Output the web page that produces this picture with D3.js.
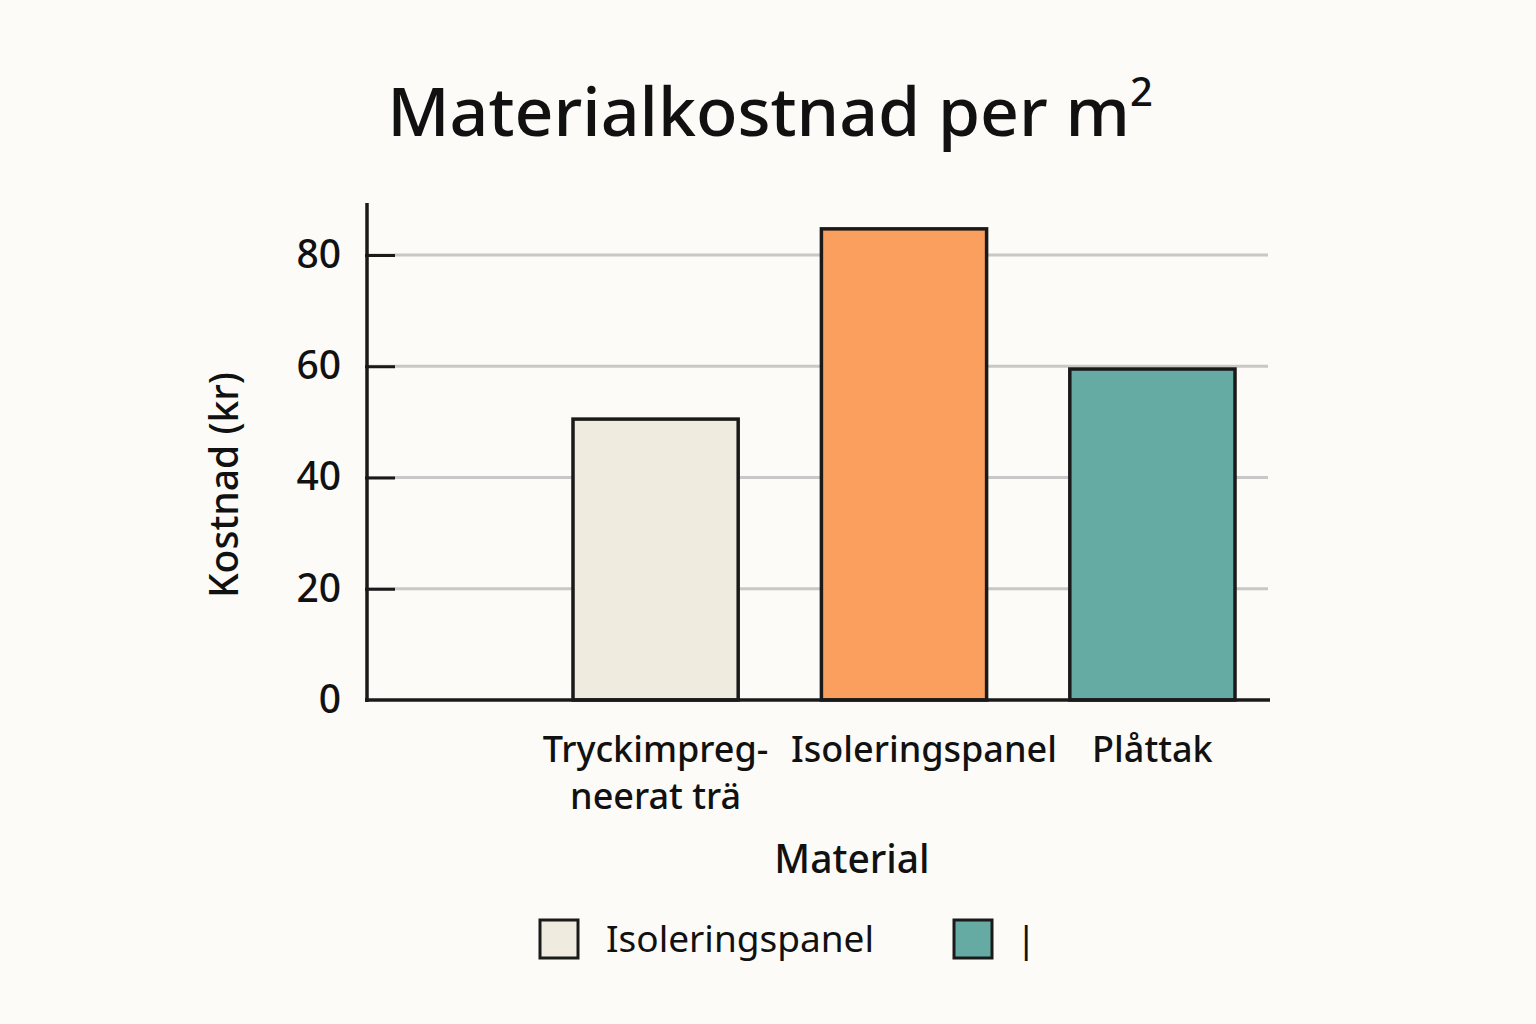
<!DOCTYPE html>
<html lang="en">
<head>
<meta charset="utf-8">
<title>Materialkostnad</title>
<script src="https://cdn.jsdelivr.net/npm/d3@7"></script>
<style>
  body { margin: 0; background: #fcfbf7; }
  text { font-family: "Noto Sans", "DejaVu Sans", sans-serif; fill: #111; font-weight: 500; }
  .tick text { font-size: 39px; }
</style>
</head>
<body>
<div id="chart"></div>
<script>
// data
var categories = ["Tryckimpregneerat trä", "Isoleringspanel", "Plåttak"];
var labelLines = [["Tryckimpreg-", "neerat trä"], ["Isoleringspanel"], ["Plåttak"]];
var costs = [50.5, 84.7, 59.5];
var colors = ["#efebdf", "#fb9f5e", "#65aba4"];
var yTicks = [0, 20, 40, 60, 80];
var legendItems = [{label: "Isoleringspanel", color: "#efebdf"}, {label: "|", color: "#65aba4"}];

var svg = d3.select("#chart").append("svg")
  .attr("width", 1536).attr("height", 1024)
  .style("background", "#fcfbf7");

var x = d3.scaleBand().domain(categories).range([573, 1235]).paddingInner(0.335).paddingOuter(0);
var y = d3.scaleLinear().domain([0, 80]).range([700, 255]);

// title
var title = svg.append("text").attr("x", 770).attr("y", 136)
  .attr("text-anchor", "middle").style("font-size", "68px");
title.append("tspan").text("Materialkostnad per m");
title.append("tspan").text("2").attr("dy", -30).style("font-size", "40px");

// grid
svg.append("g").selectAll("line").data(yTicks.filter(function(d) { return d > 0; }))
  .enter().append("line")
  .attr("x1", 367).attr("x2", 1268)
  .attr("y1", function(d) { return y(d); }).attr("y2", function(d) { return y(d); })
  .attr("stroke", "#c8c8c8").attr("stroke-width", 3);

// bars
svg.append("g").selectAll("rect").data(costs).enter().append("rect")
  .attr("x", function(d, i) { return x(categories[i]); })
  .attr("width", x.bandwidth())
  .attr("y", function(d) { return y(d); })
  .attr("height", function(d) { return y(0) - y(d); })
  .attr("fill", function(d, i) { return colors[i]; })
  .attr("stroke", "#1a1a1a").attr("stroke-width", 3.5);

// y axis
var yAxis = svg.append("g").attr("transform", "translate(367,0)")
  .call(d3.axisLeft(y).tickValues(yTicks).tickSize(28).tickPadding(10));
yAxis.selectAll(".tick line").attr("stroke", "#1a1a1a").attr("stroke-width", 3)
  .attr("x1", 0).attr("x2", 30).attr("transform", "translate(-2,0)");
yAxis.selectAll(".tick text").attr("x", -26);
yAxis.select(".domain").remove();
yAxis.selectAll(".tick").filter(function(d) { return d === 0; }).select("line").remove();
svg.append("line").attr("x1", 367).attr("x2", 367).attr("y1", 203).attr("y2", 702)
  .attr("stroke", "#1a1a1a").attr("stroke-width", 3.5);
svg.append("line").attr("x1", 365).attr("x2", 1270).attr("y1", 700).attr("y2", 700)
  .attr("stroke", "#1a1a1a").attr("stroke-width", 3.5);

// x labels
svg.append("g").selectAll("text").data(categories).enter().append("text")
  .attr("x", function(d) { return x(d) + x.bandwidth() / 2; })
  .attr("y", 762).attr("text-anchor", "middle").style("font-size", "36px")
  .each(function(d, i) {
    d3.select(this).selectAll("tspan").data(labelLines[i]).enter().append("tspan")
      .attr("x", x(d) + x.bandwidth() / 2 + (i === 1 ? 20 : 0))
      .attr("dy", function(t, j) { return j === 0 ? 0 : 47; })
      .text(function(t) { return t; });
  });

// axis titles
svg.append("text").attr("x", 852).attr("y", 873).attr("text-anchor", "middle")
  .style("font-size", "39px").text("Material");
svg.append("text").attr("transform", "translate(238,485) rotate(-90)")
  .attr("text-anchor", "middle").style("font-size", "39px").text("Kostnad (kr)");

// legend
var lx = [540, 954];
var leg = svg.append("g").selectAll("g").data(legendItems).enter().append("g")
  .attr("transform", function(d, i) { return "translate(" + lx[i] + ",920)"; });
leg.append("rect").attr("width", 38).attr("height", 38)
  .attr("fill", function(d) { return d.color; })
  .attr("stroke", "#1a1a1a").attr("stroke-width", 3);
leg.append("text").attr("x", function(d, i) { return i === 0 ? 66 : 62; }).attr("y", 32)
  .style("font-size", "37px").style("font-weight", 400)
  .text(function(d) { return d.label; });
</script>
</body>
</html>
